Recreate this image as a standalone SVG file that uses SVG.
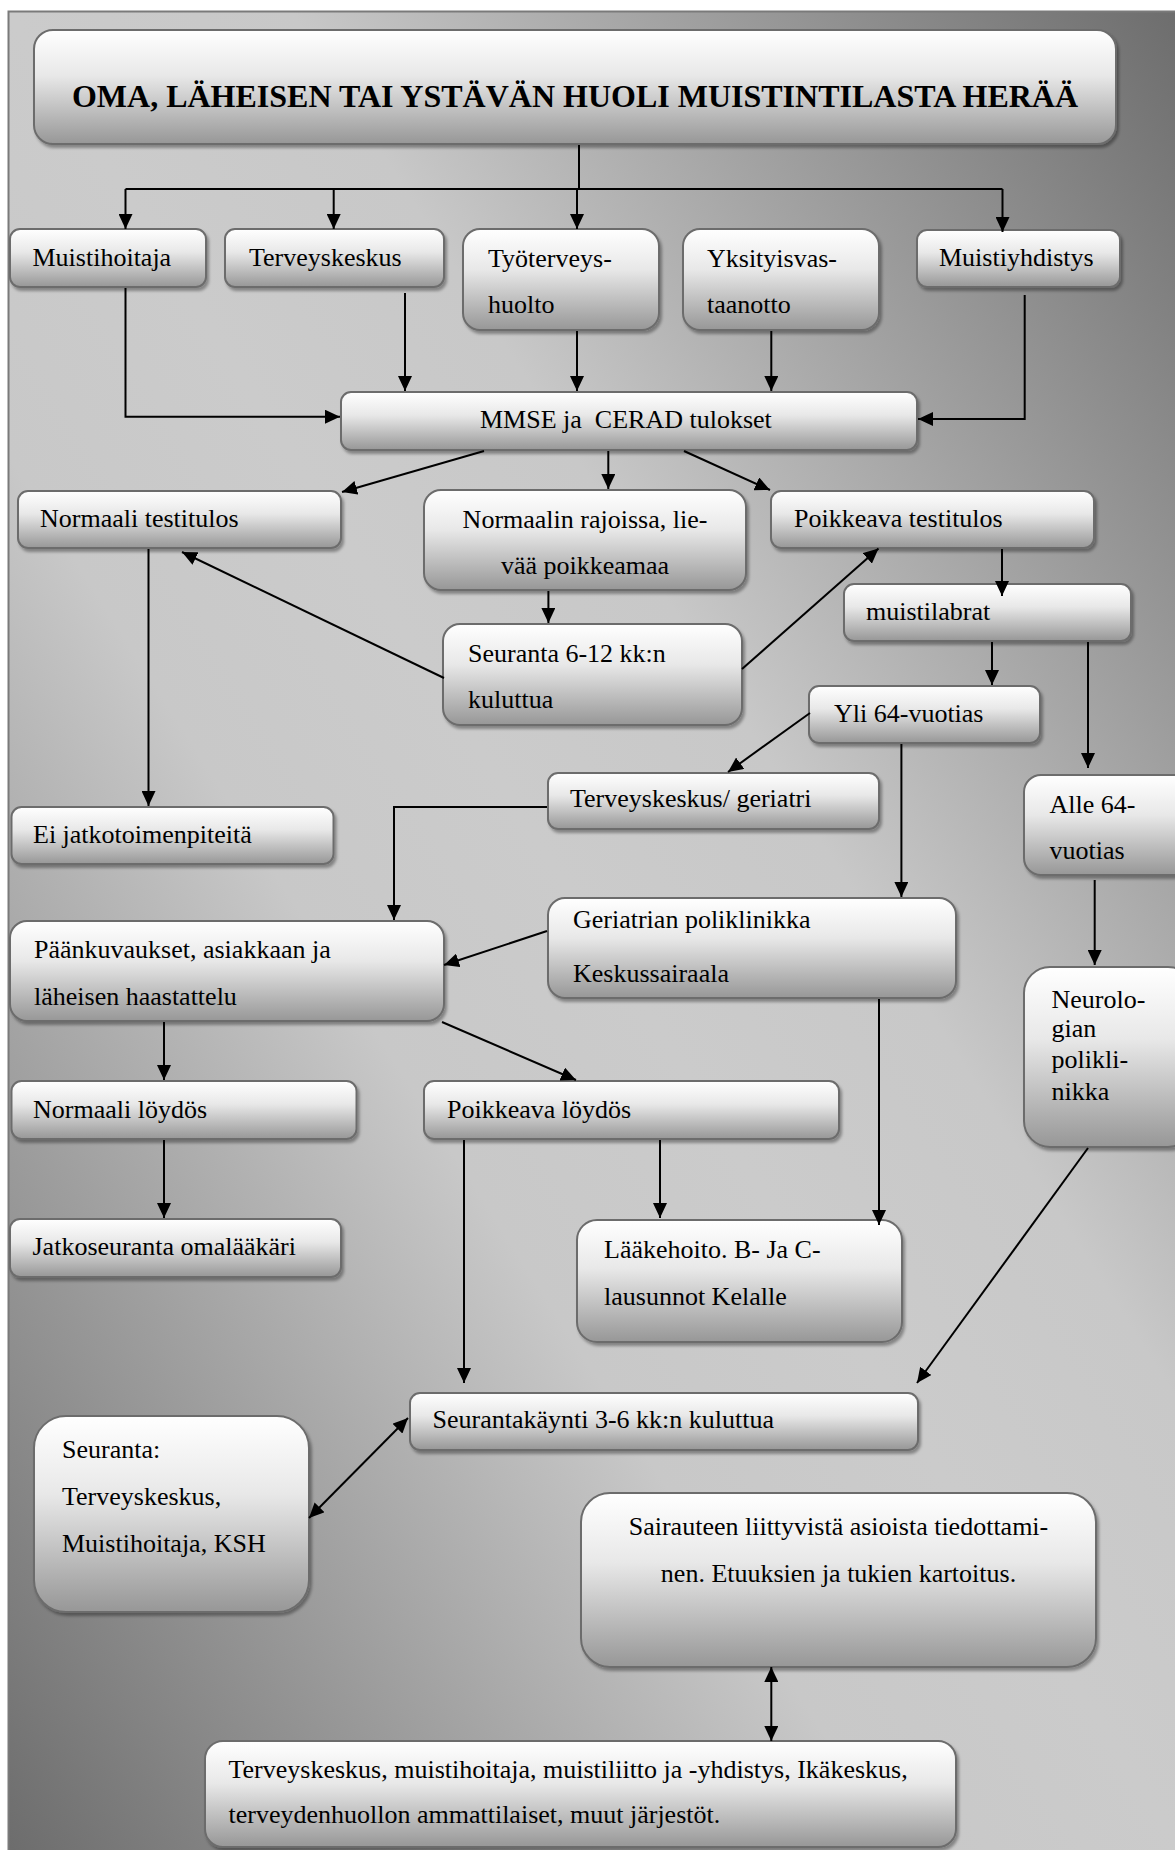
<svg xmlns="http://www.w3.org/2000/svg" width="1175" height="1850" viewBox="0 0 1175 1850">
<style>
.box{fill:url(#boxg);stroke:#6c6c6c;stroke-width:2;filter:url(#sh)}
.t{font-family:"Liberation Serif","Times New Roman",serif;font-size:26px;fill:#000}
.c{text-anchor:middle}
.ln{fill:none;stroke:#000;stroke-width:2}
.a{marker-end:url(#ah)}
.d{marker-start:url(#ah);marker-end:url(#ah)}
</style>
<defs>
<linearGradient id="bg" x1="1" y1="0" x2="0" y2="1">
<stop offset="0" stop-color="#6c6c6c"/>
<stop offset="0.38" stop-color="#c8c8c8"/>
<stop offset="0.5" stop-color="#cbcbcb"/>
<stop offset="0.62" stop-color="#c8c8c8"/>
<stop offset="1" stop-color="#6c6c6c"/>
</linearGradient>
<linearGradient id="boxg" x1="0" y1="0" x2="0" y2="1">
<stop offset="0" stop-color="#ffffff"/>
<stop offset="0.4" stop-color="#e8e8e8"/>
<stop offset="1" stop-color="#979797"/>
</linearGradient>
<filter id="sh" x="-10%" y="-10%" width="120%" height="130%">
<feDropShadow dx="2" dy="3" stdDeviation="1.5" flood-color="#000" flood-opacity="0.35"/>
</filter>
<marker id="ah" viewBox="0 0 15 14" refX="15" refY="7" markerWidth="15" markerHeight="14" markerUnits="userSpaceOnUse" orient="auto-start-reverse">
<path d="M0,0 L15,7 L0,14 Z" fill="#000"/>
</marker>
</defs>
<rect x="0" y="0" width="1175" height="1850" fill="#fff"/>
<rect x="8.5" y="11.5" width="1180" height="1850" fill="url(#bg)" stroke="#7a7a7a" stroke-width="2"/>

<g id="title"><rect class="box" x="34" y="30" width="1082" height="114" rx="19"/>
<text class="t c" x="575" y="107" style="font-size:32px;font-weight:bold">OMA, LÄHEISEN TAI YSTÄVÄN HUOLI MUISTINTILASTA HERÄÄ</text></g>

<g id="muistihoitaja"><rect class="box" x="10" y="229" width="196" height="58" rx="10"/>
<text class="t" x="32.5" y="266">Muistihoitaja</text></g>

<g id="terveyskeskus"><rect class="box" x="225" y="229" width="219" height="58" rx="10"/>
<text class="t" x="249" y="266">Terveyskeskus</text></g>

<g id="tyoterveys"><rect class="box" x="463" y="229" width="196" height="101" rx="17"/>
<text class="t" x="488" y="267">Työterveys-</text><text class="t" x="488" y="313">huolto</text></g>

<g id="yksityis"><rect class="box" x="683" y="229" width="196" height="101" rx="17"/>
<text class="t" x="707" y="267">Yksityisvas-</text><text class="t" x="707" y="313">taanotto</text></g>

<g id="muistiyhdistys"><rect class="box" x="917" y="230" width="203" height="57" rx="10"/>
<text class="t" x="939" y="266">Muistiyhdistys</text></g>

<g id="mmse"><rect class="box" x="341" y="392" width="576" height="58" rx="10"/>
<text class="t" x="480" y="428" xml:space="preserve">MMSE ja  CERAD tulokset</text></g>

<g id="normaali-testitulos"><rect class="box" x="18" y="491" width="323" height="57" rx="10"/>
<text class="t" x="40" y="527">Normaali testitulos</text></g>

<g id="normaalin-rajoissa"><rect class="box" x="424" y="490" width="322" height="100" rx="17"/>
<text class="t c" x="585" y="528">Normaalin rajoissa, lie-</text><text class="t c" x="585" y="574">vää poikkeamaa</text></g>

<g id="poikkeava-testitulos"><rect class="box" x="771" y="491" width="323" height="57" rx="10"/>
<text class="t" x="794" y="527">Poikkeava testitulos</text></g>

<g id="muistilabrat"><rect class="box" x="844" y="584" width="287" height="57" rx="10"/>
<text class="t" x="866" y="620">muistilabrat</text></g>

<g id="seuranta-6-12"><rect class="box" x="443" y="624" width="299" height="101" rx="17"/>
<text class="t" x="468" y="662">Seuranta 6-12 kk:n</text><text class="t" x="468" y="708">kuluttua</text></g>

<g id="yli-64"><rect class="box" x="809" y="686" width="231" height="57" rx="10"/>
<text class="t" x="834" y="722">Yli 64-vuotias</text></g>

<g id="ei-jatko"><rect class="box" x="11.5" y="807" width="322" height="57" rx="10"/>
<text class="t" x="33" y="843">Ei jatkotoimenpiteitä</text></g>

<g id="tk-geriatri"><rect class="box" x="548" y="773" width="331" height="56" rx="10"/>
<text class="t" x="570" y="807">Terveyskeskus/ geriatri</text></g>

<g id="alle-64"><rect class="box" x="1024" y="775" width="170" height="100" rx="17"/>
<text class="t" x="1049.5" y="813">Alle 64-</text><text class="t" x="1049.5" y="859">vuotias</text></g>

<g id="geriatrian"><rect class="box" x="548" y="898" width="408" height="100" rx="17"/>
<text class="t" x="573" y="928">Geriatrian poliklinikka</text><text class="t" x="573" y="982">Keskussairaala</text></g>

<g id="paankuvaukset"><rect class="box" x="10" y="921" width="434" height="100" rx="17"/>
<text class="t" x="34" y="958">Päänkuvaukset, asiakkaan ja</text><text class="t" x="34" y="1005">läheisen haastattelu</text></g>

<g id="normaali-loydos"><rect class="box" x="11.5" y="1081" width="345" height="58" rx="10"/>
<text class="t" x="33" y="1118">Normaali löydös</text></g>

<g id="poikkeava-loydos"><rect class="box" x="424" y="1081" width="415" height="58" rx="10"/>
<text class="t" x="447" y="1118">Poikkeava löydös</text></g>

<g id="neurologian"><rect class="box" x="1024" y="967" width="170" height="180" rx="26"/>
<text class="t" x="1051.5" y="1008">Neurolo-</text><text class="t" x="1051.5" y="1037">gian</text><text class="t" x="1051.5" y="1068">polikli-</text><text class="t" x="1051.5" y="1100">nikka</text></g>

<g id="jatkoseuranta"><rect class="box" x="10" y="1219" width="331" height="58" rx="10"/>
<text class="t" x="32.5" y="1255">Jatkoseuranta omalääkäri</text></g>

<g id="laakehoito"><rect class="box" x="577" y="1220" width="325" height="122" rx="20"/>
<text class="t" x="604" y="1258">Lääkehoito. B- Ja C-</text><text class="t" x="604" y="1305">lausunnot Kelalle</text></g>

<g id="seurantakaynti"><rect class="box" x="410" y="1393" width="508" height="57" rx="10"/>
<text class="t" x="432.5" y="1428">Seurantakäynti 3-6 kk:n kuluttua</text></g>

<g id="seuranta-tk"><rect class="box" x="34" y="1416" width="275" height="196" rx="32"/>
<text class="t" x="62" y="1458">Seuranta:</text><text class="t" x="62" y="1505">Terveyskeskus,</text><text class="t" x="62" y="1552">Muistihoitaja, KSH</text></g>

<g id="sairauteen"><rect class="box" x="581" y="1493" width="515" height="174" rx="29"/>
<text class="t c" x="838.5" y="1535">Sairauteen liittyvistä asioista tiedottami-</text><text class="t c" x="838.5" y="1582">nen. Etuuksien ja tukien kartoitus.</text></g>

<g id="tahot"><rect class="box" x="205" y="1741" width="751" height="106" rx="18"/>
<text class="t" x="228.5" y="1778">Terveyskeskus, muistihoitaja, muistiliitto ja -yhdistys, Ikäkeskus,</text><text class="t" x="228.5" y="1823">terveydenhuollon ammattilaiset, muut järjestöt.</text></g>

<g id="connectors">
<path class="ln" d="M579,145 V189 M125.5,189 H1002.5"/>
<path class="ln a" d="M125.5,189 V229"/>
<path class="ln a" d="M333.7,189 V229"/>
<path class="ln a" d="M577,189 V229"/>
<path class="ln a" d="M1002.5,189 V232"/>
<path class="ln a" d="M125.5,288 V416.7 H340"/>
<path class="ln a" d="M405,293 V391"/>
<path class="ln a" d="M577,331 V391"/>
<path class="ln a" d="M771.3,331 V391"/>
<path class="ln a" d="M1024.7,295 V419 H918"/>
<path class="ln a" d="M484,451 L342,492"/>
<path class="ln a" d="M608.3,451 V489"/>
<path class="ln a" d="M684,451 L770,490"/>
<path class="ln a" d="M548.4,591 V623"/>
<path class="ln a" d="M444,678 L182,552"/>
<path class="ln a" d="M742,669 L878.5,548.5"/>
<path class="ln a" d="M1002,549 V596"/>
<path class="ln a" d="M992,642 V685"/>
<path class="ln a" d="M1088,642 V768"/>
<path class="ln a" d="M810,713 L728,772"/>
<path class="ln a" d="M901.4,744 V897"/>
<path class="ln a" d="M547,807 H394 V920"/>
<path class="ln a" d="M148.5,549 V806"/>
<path class="ln a" d="M1094.7,880 V965"/>
<path class="ln a" d="M547,931 L444,965"/>
<path class="ln a" d="M164,1022 V1080"/>
<path class="ln a" d="M442,1022 L576,1080"/>
<path class="ln a" d="M164,1140 V1218"/>
<path class="ln a" d="M660,1140 V1218"/>
<path class="ln a" d="M879,999 V1225"/>
<path class="ln a" d="M464,1140 V1383"/>
<path class="ln a" d="M1088,1148 L917,1383"/>
<path class="ln d" d="M309,1518 L408,1418"/>
<path class="ln d" d="M771.3,1667 V1741"/>
</g>
</svg>
